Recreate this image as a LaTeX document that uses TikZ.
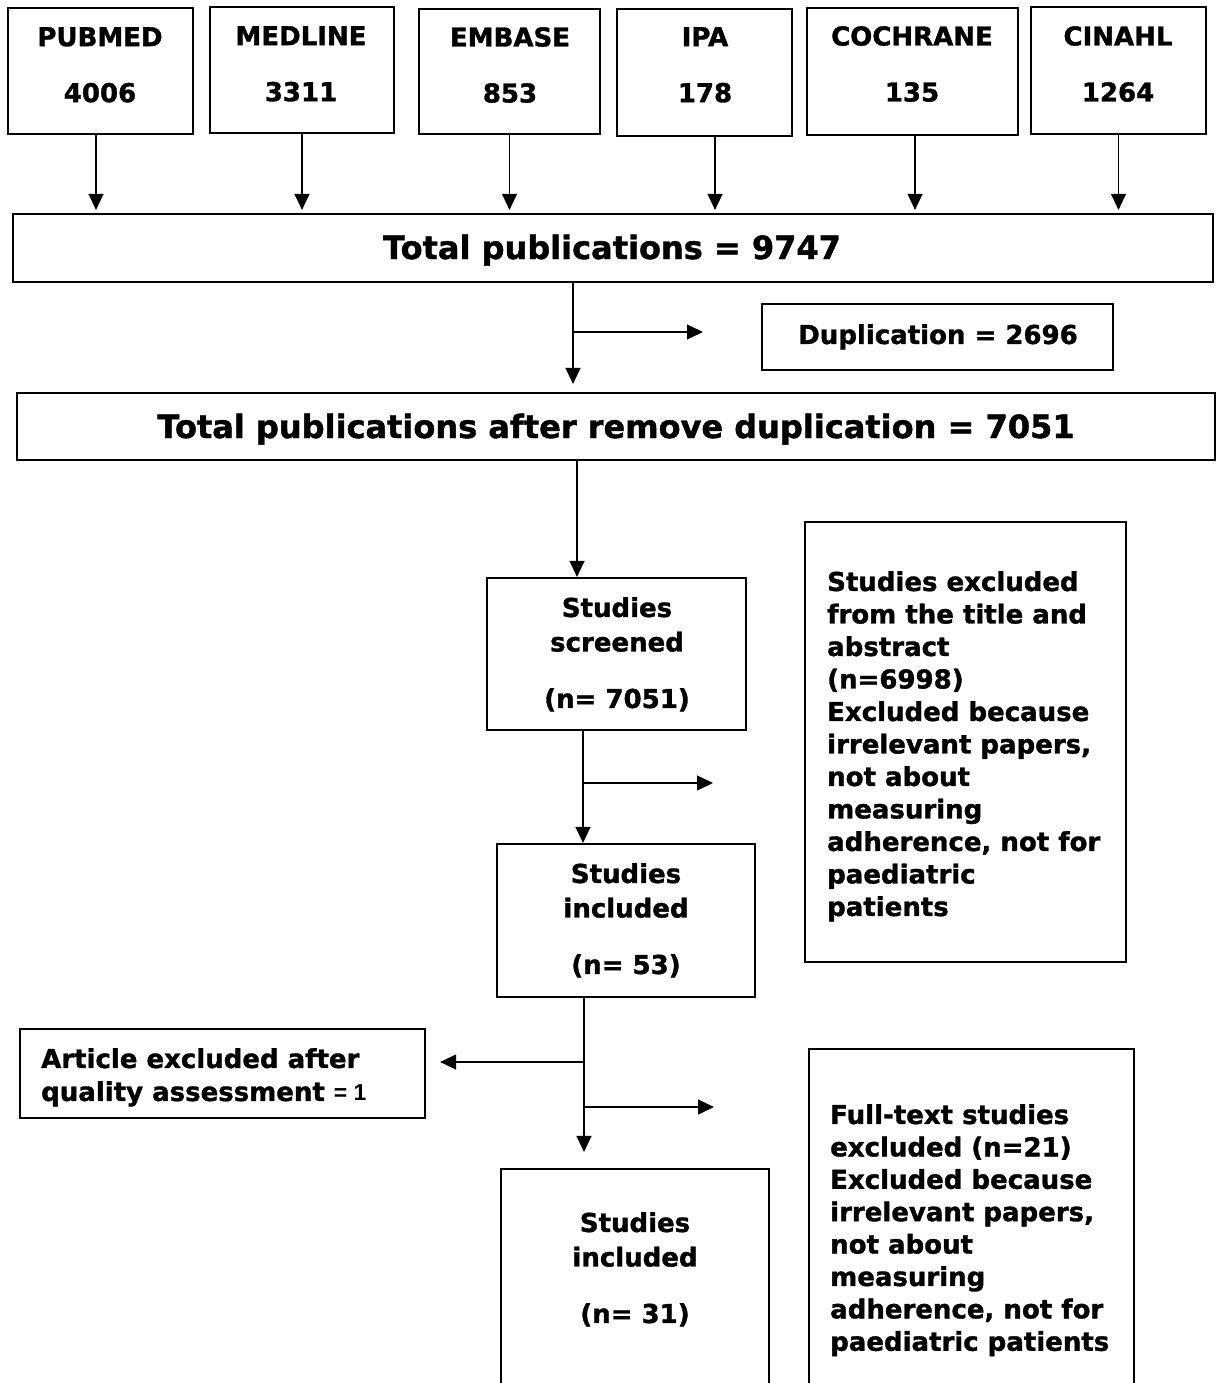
\documentclass[tikz,border=0pt]{standalone}
\usepackage{fontspec}
\setmainfont{DejaVu Sans}[BoldFeatures={FakeBold=1.3}]
\newfontfamily\arialf{Liberation Sans}
\usetikzlibrary{arrows.meta}
\begin{document}
\begin{tikzpicture}[x=1pt,y=-1pt,
  box/.style={draw, line width=2.2pt, rectangle, inner sep=0pt},
  tsrc/.style={inner sep=0pt, anchor=north, align=center, font=\bfseries\fontsize{26}{32}\selectfont},
  tbig/.style={inner sep=0pt, anchor=north, align=center, font=\bfseries\fontsize{32}{38}\selectfont},
  tstudy/.style={inner sep=0pt, anchor=north, align=center, font=\bfseries\fontsize{26}{34.5}\selectfont},
  tleft/.style={inner sep=0pt, anchor=north west, align=left, font=\bfseries\fontsize{26}{32.5}\selectfont},
  ln/.style={line width=1.3pt},
  arr/.style={line width=1.3pt, -{Triangle[length=16pt,width=15pt]}}]
\useasboundingbox (0,0) rectangle (1219,1383);
\clip (0,0) rectangle (1219,1383);
\fill[white] (0,0) rectangle (1219,1383);

% source boxes
\node[box, minimum width=185pt, minimum height=126pt] (pubmed) at (100.5,71) {};
\node[box, minimum width=184pt, minimum height=126pt] (medline) at (302,70) {};
\node[box, minimum width=181pt, minimum height=125pt] (embase) at (509.5,71.5) {};
\node[box, minimum width=175pt, minimum height=127pt] (ipa) at (704.5,72.5) {};
\node[box, minimum width=211pt, minimum height=127pt] (cochrane) at (912.5,71.5) {};
\node[box, minimum width=175pt, minimum height=127pt] (cinahl) at (1118.5,70.5) {};
\node[tsrc] (pubmedt) at (100,27) {PUBMED\\[24pt]4006};
\node[tsrc] (medlinet) at (301,26) {MEDLINE\\[24pt]3311};
\node[tsrc] (embaset) at (510,27) {EMBASE\\[24pt]853};
\node[tsrc] (ipat) at (705,27) {IPA\\[24pt]178};
\node[tsrc] (cochranet) at (912,26) {COCHRANE\\[24pt]135};
\node[tsrc] (cinahlt) at (1118,26) {CINAHL\\[24pt]1264};

% totals
\node[box, minimum width=1200pt, minimum height=68pt] (total) at (613,248) {};
\node[tbig] (totalt) at (612,234.5) {Total publications = 9747};
\node[box, minimum width=351pt, minimum height=66pt] (dup) at (937.5,337) {};
\node[tsrc] (dupt) at (938,324) {Duplication = 2696};
\node[box, minimum width=1198pt, minimum height=67pt] (total2) at (616,426.5) {};
\node[tbig] (total2t) at (616,413.5) {Total publications after remove duplication = 7051};

% screening
\node[box, minimum width=259pt, minimum height=152pt] (screened) at (616.5,654) {};
\node[tstudy] (screenedt) at (617,597) {Studies\\screened\\[22pt](n= 7051)};
\node[box, minimum width=258pt, minimum height=153pt] (inc53) at (626,920.5) {};
\node[tstudy] (inc53t) at (626,863) {Studies\\included\\[22pt](n= 53)};
\node[box, minimum width=321pt, minimum height=440pt] (excl1) at (965.5,742) {};
\node[tleft] (excl1t) at (827,571) {Studies excluded\\from the title and\\abstract\\(n=6998)\\Excluded because\\irrelevant papers,\\not about\\measuring\\adherence, not for\\paediatric\\patients};
\node[box, minimum width=405pt, minimum height=89pt] (artex) at (222.5,1073.5) {};
\node[tleft, font=\bfseries\fontsize{26}{33}\selectfont] (artext) at (41,1048) {Article excluded after\\quality assessment {\arialf\bfseries\fontsize{23}{23}\selectfont= 1}};
\node[box, minimum width=268pt, minimum height=251pt] (s31) at (635,1294.5) {};
\node[tstudy] (s31t) at (635,1212) {Studies\\included\\[22pt](n= 31)};
\node[box, minimum width=325pt, minimum height=371pt] (excl2) at (971.5,1234.5) {};
\node[tleft, font=\bfseries\fontsize{26}{32.4}\selectfont] (excl2t) at (830,1104) {Full-text studies\\excluded (n=21)\\Excluded because\\irrelevant papers,\\not about\\measuring\\adherence, not for\\paediatric patients};

% source arrows
\draw[arr, shorten >=3pt] ([xshift=-4.5pt]pubmed.south) -- ([xshift=-4.5pt]pubmed.south |- total.north);
\draw[arr, shorten >=3pt] (medline.south) -- (medline.south |- total.north);
\draw[arr, shorten >=3pt] (embase.south) -- (embase.south |- total.north);
\draw[arr, shorten >=3pt] ([xshift=10.5pt]ipa.south) -- ([xshift=10.5pt]ipa.south |- total.north);
\draw[arr, shorten >=3pt] ([xshift=2.5pt]cochrane.south) -- ([xshift=2.5pt]cochrane.south |- total.north);
\draw[arr, shorten >=3pt] (cinahl.south) -- (cinahl.south |- total.north);

% flow
\coordinate (b1) at (573,332);
\coordinate (e1) at (703,332);
\draw[arr] (total.south -| b1) -- ([yshift=8pt]total2.north -| b1);
\draw[arr] (b1) -- (e1);

\coordinate (v1) at (577,500);
\draw[arr] (total2.south -| v1) -- (screened.north -| v1);

\coordinate (b2) at (583,783);
\coordinate (e2) at (713,783);
\draw[arr] (screened.south -| b2) -- (inc53.north -| b2);
\draw[arr] (b2) -- (e2);

\coordinate (b3) at (584,1062);
\coordinate (b4) at (584,1107);
\coordinate (e4) at (714,1107);
\draw[arr] (inc53.south -| b3) -- ([yshift=16pt]s31.north -| b3);
\draw[arr] (b3) -- ([xshift=14pt]artex.east |- b3);
\draw[arr] (b4) -- (e4);
\end{tikzpicture}
\end{document}
